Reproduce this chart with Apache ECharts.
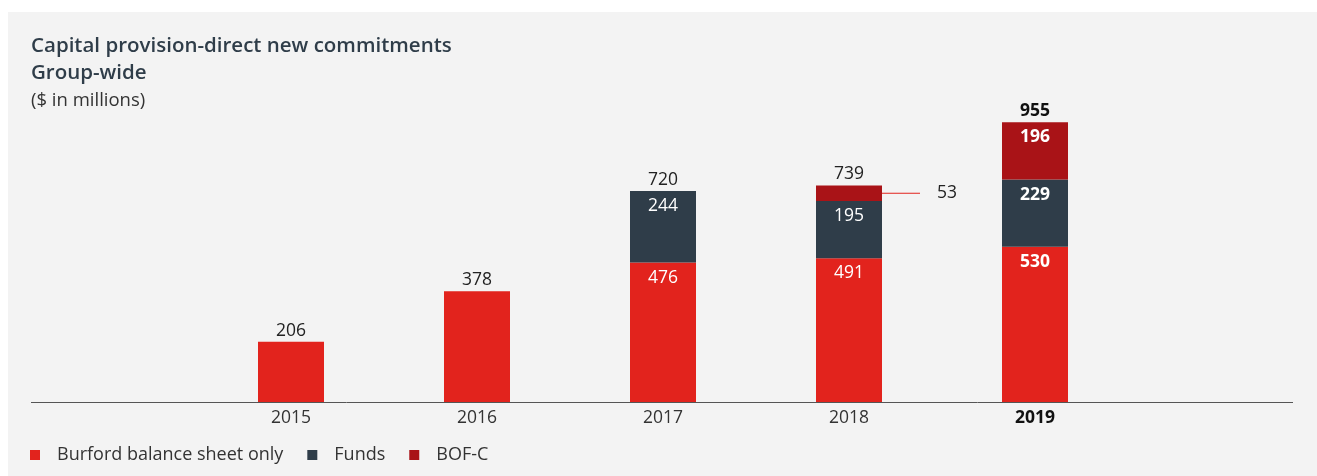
<!DOCTYPE html>
<html style="height: 100%">
<head>
    <meta charset="utf-8">
</head>
<body style="height: 100%; margin: 0; background: #ffffff">
<div id="main" style="width: 1317px; height: 476px;"></div>

<script type="text/javascript" src="https://cdn.jsdelivr.net/npm/echarts@6/dist/echarts.min.js"></script>
<script type="text/javascript">

    const years = ['2015', '2016', '2017', '2018', '2019'];
    const burford = [206, 378, 476, 491, 530];
    const funds = [null, null, 244, 195, 229];
    const bofc = [null, null, null, 53, 196];
    const totals = [206, 378, 720, 739, 955];

    const cRed = '#e2231d';
    const cNavy = '#2f3d49';
    const cDark = '#a91317';
    const font = 'Open Sans';
    const fs = 17.5;

    // inside labels only where there is a stack
    function insideData(arr, showFrom) {
        return arr.map(function (v, i) {
            if (v == null) return null;
            return {
                value: v,
                label: {
                    show: i >= showFrom,
                    fontWeight: i === 4 ? 'bold' : 'normal'
                }
            };
        });
    }

    var bofcData = bofc.map(function (v, i) {
        if (v == null) return null;
        if (i === 3) {
            // small segment: label outside with a leader line
            return {
                value: v,
                label: {
                    show: true,
                    position: 'right',
                    distance: 0,
                    color: '#222',
                    fontWeight: 'normal',
                    formatter: '{l|}{t|' + v + '}',
                    rich: {
                        l: {width: 38, height: 1, backgroundColor: cRed},
                        t: {fontFamily: font, fontSize: fs, color: '#222', padding: [0, 0, 0, 17]}
                    }
                }
            };
        }
        return {value: v, label: {show: true, fontWeight: 'bold'}};
    });

    var chart = echarts.init(document.getElementById('main'));

    var insideLabel = {
        show: true,
        position: 'insideTop',
        distance: 6,
        color: '#ffffff',
        fontFamily: font,
        fontSize: fs
    };

    var option = {
        animation: false,
        textStyle: {fontFamily: font},
        graphic: [
            {
                type: 'rect', z: -10, silent: true,
                shape: {x: 8, y: 12, width: 1309, height: 464},
                style: {fill: '#f3f3f3'}
            },
            {
                type: 'line', z: 10, silent: true,
                shape: {x1: 31, y1: 402.5, x2: 1293, y2: 402.5},
                style: {stroke: '#555555', lineWidth: 1}
            }
        ],
        title: {
            left: 31,
            top: 33,
            padding: 0,
            text: '{b|Capital provision-direct new commitments}\n{b|Group-wide}\n{n|($ in millions)}',
            textStyle: {
                fontSize: 20.5,
                fontWeight: 600,
                rich: {
                    b: {fontFamily: font, fontSize: 20.5, fontWeight: 600, color: '#2f3d49', lineHeight: 27},
                    n: {fontFamily: font, fontSize: 18.5, fontWeight: 'normal', color: '#333333', lineHeight: 28}
                }
            }
        },
        legend: {
            left: 30,
            top: 446,
            padding: 0,
            icon: 'rect',
            itemWidth: 10,
            itemHeight: 10,
            itemGap: 24,
            textStyle: {fontFamily: font, fontSize: 18, color: '#333333', padding: [0, 0, 0, 12]},
            data: ['Burford balance sheet only', 'Funds', 'BOF-C']
        },
        grid: {left: 198, right: 189, top: 109, bottom: 74},
        xAxis: {
            type: 'category',
            data: years,
            axisLine: {show: false},
            axisTick: {show: false},
            axisLabel: {
                margin: 7,
                fontFamily: font,
                fontSize: fs,
                color: '#333333',
                formatter: function (v) {
                    return v === '2019' ? '{b|' + v + '}' : v;
                },
                rich: {b: {fontFamily: font, fontSize: fs, fontWeight: 'bold', color: '#111111'}}
            }
        },
        yAxis: {
            type: 'value',
            min: 0,
            max: 1000,
            show: false,
            splitLine: {show: false}
        },
        series: [
            {
                name: 'Burford balance sheet only',
                type: 'bar',
                stack: 'all',
                barWidth: 66,
                itemStyle: {color: cRed},
                label: insideLabel,
                data: insideData(burford, 2)
            },
            {
                name: 'Funds',
                type: 'bar',
                stack: 'all',
                itemStyle: {color: cNavy},
                label: insideLabel,
                data: insideData(funds, 0)
            },
            {
                name: 'BOF-C',
                type: 'bar',
                stack: 'all',
                itemStyle: {color: cDark},
                label: insideLabel,
                data: bofcData
            },
            {
                name: 'total',
                type: 'bar',
                stack: 'all',
                itemStyle: {color: 'transparent'},
                label: {
                    show: true,
                    position: 'top',
                    distance: 2,
                    fontFamily: font,
                    fontSize: fs,
                    color: '#222222',
                    formatter: function (p) {
                        return totals[p.dataIndex];
                    }
                },
                data: totals.map(function (v, i) {
                    return {value: 0, label: {fontWeight: i === 4 ? 'bold' : 'normal', color: i === 4 ? '#111111' : '#222222'}};
                })
            }
        ]
    };

    chart.setOption(option);

</script>
</body>
</html>
